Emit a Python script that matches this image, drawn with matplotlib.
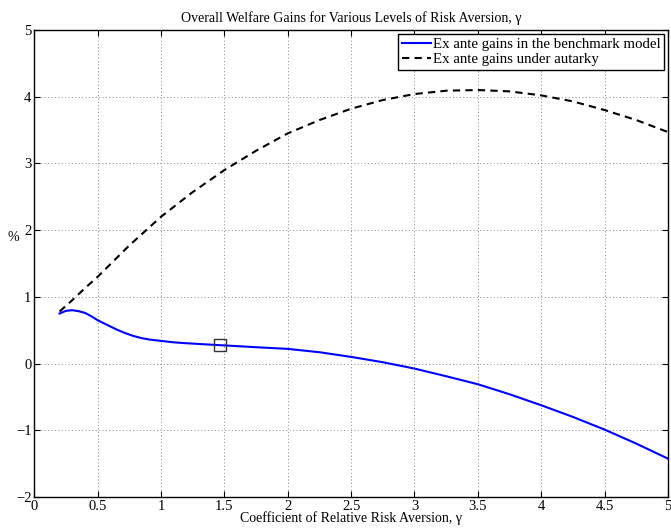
import numpy as np
import matplotlib
matplotlib.use('Agg')
import matplotlib.pyplot as plt

plt.rcParams['font.family'] = ['Liberation Serif', 'DejaVu Serif']

# values
gamma_bench = [0.2, 0.25, 0.3, 0.35, 0.4, 0.45, 0.5, 0.575, 0.65, 0.72, 0.78, 0.85, 0.91,
               1.0, 1.09, 1.18, 1.33, 1.5, 1.75, 2.0, 2.25, 2.5, 2.75, 3.0, 3.25, 3.5,
               3.75, 4.0, 4.25, 4.5, 4.75, 5.0]
gains_bench = [0.75, 0.79, 0.80, 0.785, 0.76, 0.71, 0.65, 0.58, 0.51, 0.455, 0.415, 0.38, 0.36,
               0.34, 0.32, 0.307, 0.29, 0.272, 0.245, 0.22, 0.17, 0.10, 0.02, -0.075, -0.19, -0.31,
               -0.46, -0.625, -0.80, -0.99, -1.20, -1.425]

gamma_aut = [0.2, 0.3, 0.4, 0.5, 0.75, 1.0, 1.25, 1.5, 1.75, 2.0, 2.25, 2.5, 2.75,
             3.0, 3.25, 3.5, 3.75, 4.0, 4.25, 4.5, 4.75, 5.0]
gains_aut = [0.78, 0.95, 1.13, 1.30, 1.77, 2.20, 2.57, 2.90, 3.19, 3.45, 3.65, 3.82, 3.95,
             4.04, 4.09, 4.10, 4.08, 4.02, 3.93, 3.80, 3.65, 3.47]

marker_pt = (1.465, 0.275)

fig = plt.figure(figsize=(6.71, 5.30), dpi=100)
ax = fig.add_axes([0.051, 0.0623, 0.9445, 0.8811])

ax.plot(gamma_bench, gains_bench, color='#0000ff', lw=1.5,
        label='Ex ante gains in the benchmark model')
ax.plot(gamma_aut, gains_aut, color='black', lw=1.5, ls=(0, (3.5, 2.5)),
        label='Ex ante gains under autarky')
ax.plot(*marker_pt, marker='s', ms=8, mfc='none', mec='#333333', mew=1.0)

ax.set_xlim(0, 5)
ax.set_ylim(-2, 5)
ax.set_xticks(np.arange(0, 5.01, 0.5))
ax.set_xticklabels(['0', '0.5', '1', '1.5', '2', '2.5', '3', '3.5', '4', '4.5', '5'])
ax.set_yticks(range(-2, 6))
ax.set_yticklabels(['\u22122', '\u22121', '0', '1', '2', '3', '4', '5'])
ax.tick_params(direction='in', top=True, right=True, length=4, width=0.8,
               labelsize=10.5, pad=2)
ax.grid(True, ls=(0, (1, 2.5)), color='#888888', lw=0.7)
for s in ax.spines.values():
    s.set_linewidth(1.0)

ax.set_title('Overall Welfare Gains for Various Levels of Risk Aversion, \u03b3',
             fontsize=10, pad=6)
ax.set_xlabel('Coefficient of Relative Risk Aversion, \u03b3', fontsize=10, labelpad=-1)
ax.set_ylabel('%', fontsize=10, rotation=0, va='center', ha='center')
ax.yaxis.set_label_coords(-0.033, 0.555)

leg = ax.legend(loc='upper right', fontsize=10.7, fancybox=False, framealpha=1,
                edgecolor='black', borderpad=0.25, handlelength=2.0,
                handletextpad=0.1, labelspacing=0.15, borderaxespad=0.25)
leg.get_frame().set_linewidth(1.0)

fig.savefig('out.png', dpi=100)
